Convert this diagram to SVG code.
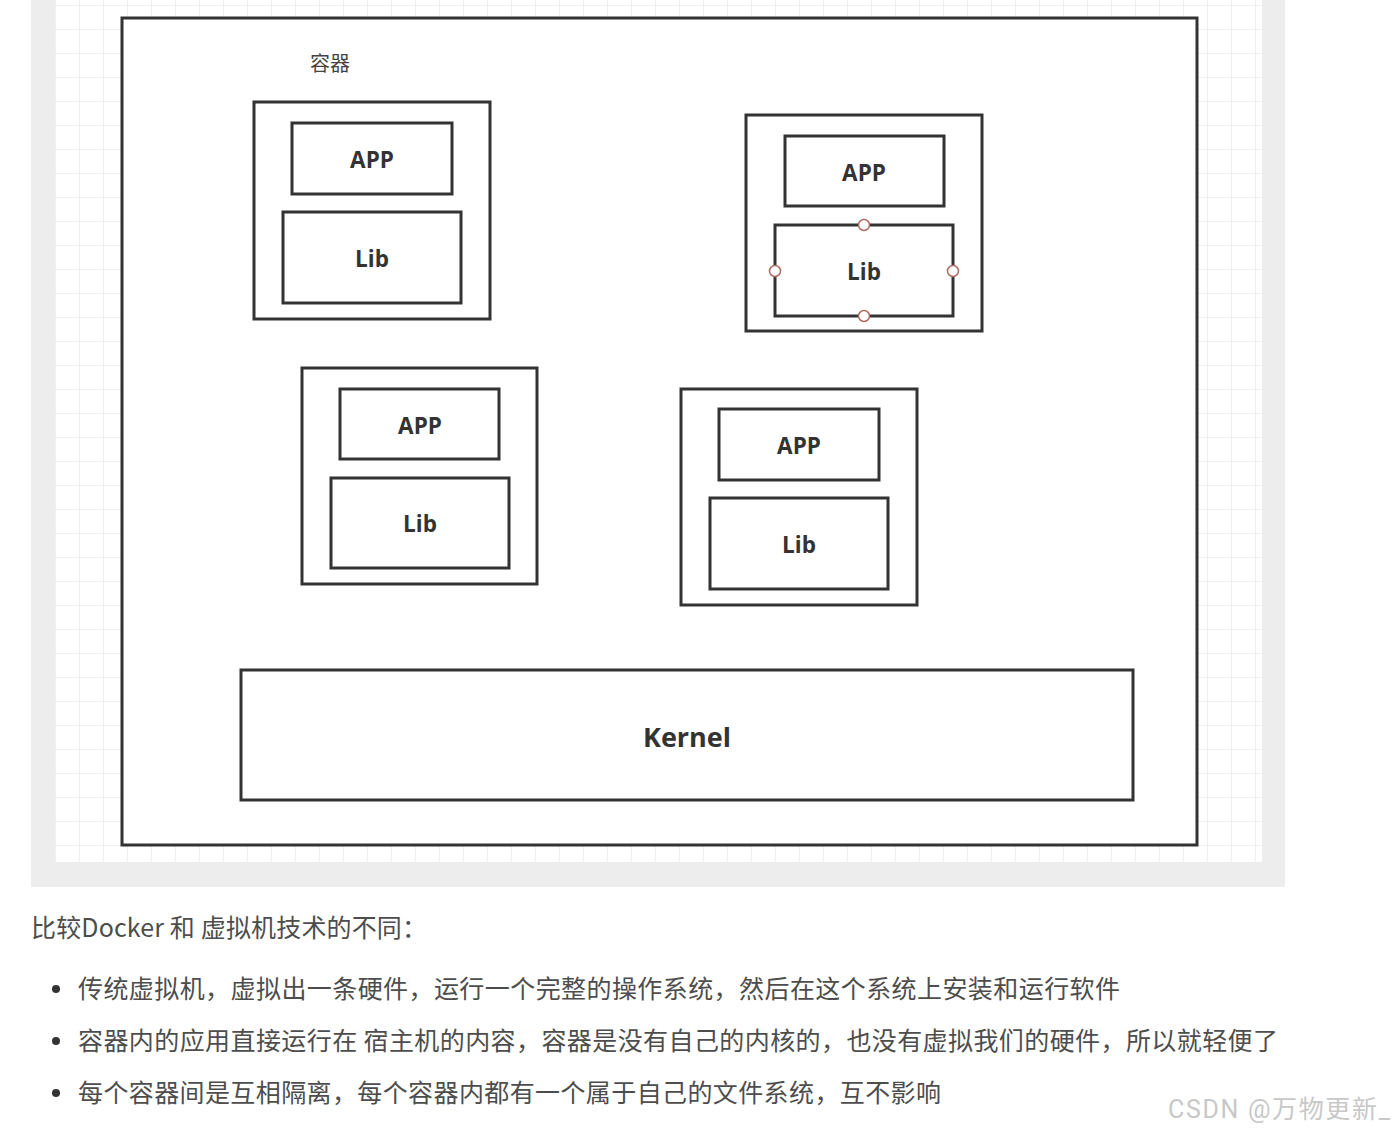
<svg xmlns="http://www.w3.org/2000/svg" width="1394" height="1132" viewBox="0 0 1394 1132">
<defs>
<pattern id="grid" x="55" y="5" width="24" height="24" patternUnits="userSpaceOnUse">
<path d="M0 0H24M0 0V24" fill="none" stroke="#ececec" stroke-width="1.5"/>
</pattern>
<style>
.box{fill:#fff;stroke:#333;stroke-width:3}
.lbl{font-family:"Open Sans","Liberation Sans",sans-serif;font-weight:bold;font-size:22.5px;fill:#333;text-anchor:middle;dominant-baseline:central}
.handle{fill:#fff;stroke:#b06a60;stroke-width:1.5}
.body{font-family:"Noto Sans CJK SC","Noto Sans",sans-serif;font-size:25px;fill:#4d4d4d}
</style>
</defs>
<rect width="1394" height="1132" fill="#fff"/>
<rect x="31" y="0" width="1254" height="887" fill="#ededed"/>
<rect x="55" y="0" width="1207" height="862" fill="#fff"/>
<rect x="55" y="0" width="1207" height="862" fill="url(#grid)"/>
<rect class="box" x="122" y="18" width="1075" height="827"/>
<text x="330" y="62" font-family="Noto Sans CJK SC,sans-serif" font-size="20" fill="#444" text-anchor="middle" dominant-baseline="central">容器</text>
<g id="container1">
<rect class="box" x="254" y="102" width="236" height="217"/>
<g id="app1"><rect class="box" x="292" y="123" width="160" height="71"/><text class="lbl" x="372" y="159">APP</text></g>
<g id="lib1"><rect class="box" x="283" y="212" width="178" height="91"/><text class="lbl" x="372" y="258">Lib</text></g>
</g>
<g id="container2">
<rect class="box" x="746" y="115" width="236" height="216"/>
<g id="app2"><rect class="box" x="785" y="136" width="159" height="70"/><text class="lbl" x="864" y="172">APP</text></g>
<g id="lib2"><rect class="box" x="775" y="225" width="178" height="91"/><text class="lbl" x="864" y="271">Lib</text>
<circle class="handle" cx="864" cy="225" r="5.5"/><circle class="handle" cx="864" cy="316" r="5.5"/><circle class="handle" cx="775" cy="271" r="5.5"/><circle class="handle" cx="953" cy="271" r="5.5"/></g>
</g>
<g id="container3">
<rect class="box" x="302" y="368" width="235" height="216"/>
<g id="app3"><rect class="box" x="340" y="389" width="159" height="70"/><text class="lbl" x="420" y="425">APP</text></g>
<g id="lib3"><rect class="box" x="331" y="478" width="178" height="90"/><text class="lbl" x="420" y="523">Lib</text></g>
</g>
<g id="container4">
<rect class="box" x="681" y="389" width="236" height="216"/>
<g id="app4"><rect class="box" x="719" y="409" width="160" height="71"/><text class="lbl" x="799" y="445">APP</text></g>
<g id="lib4"><rect class="box" x="710" y="498" width="178" height="91"/><text class="lbl" x="799" y="544">Lib</text></g>
</g>
<g id="kernel">
<rect class="box" x="241" y="670" width="892" height="130"/>
<text class="lbl" x="687" y="736" style="font-size:27px">Kernel</text>
</g>
<g id="connectors"></g>
<text class="body" x="31" y="937" textLength="396" lengthAdjust="spacing">比较Docker 和 虚拟机技术的不同：</text>
<circle cx="56" cy="989" r="4" fill="#333"/>
<circle cx="56" cy="1041" r="4" fill="#333"/>
<circle cx="56" cy="1093" r="4" fill="#333"/>
<text class="body" x="78" y="998" textLength="1042" lengthAdjust="spacing">传统虚拟机，虚拟出一条硬件，运行一个完整的操作系统，然后在这个系统上安装和运行软件</text>
<text class="body" x="78" y="1050" textLength="1200" lengthAdjust="spacing">容器内的应用直接运行在 宿主机的内容，容器是没有自己的内核的，也没有虚拟我们的硬件，所以就轻便了</text>
<text class="body" x="78" y="1102" textLength="863" lengthAdjust="spacing">每个容器间是互相隔离，每个容器内都有一个属于自己的文件系统，互不影响</text>
<text x="1168" y="1118" font-family="Roboto,Noto Sans CJK SC,sans-serif" font-size="25" fill="#c8c8c8" textLength="222" lengthAdjust="spacing">CSDN @万物更新_</text>
</svg>
